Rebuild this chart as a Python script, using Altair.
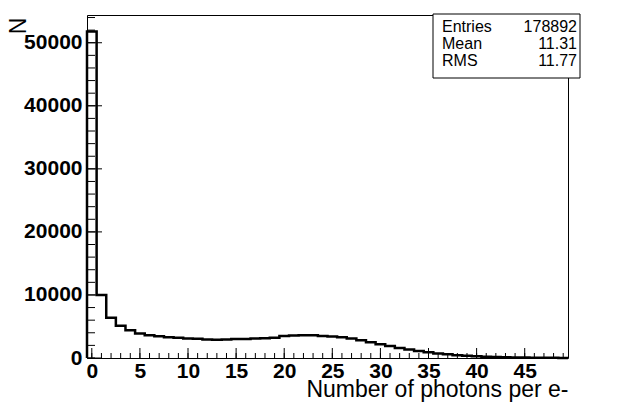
import altair as alt
import pandas as pd

# ---- data ----
bins = list(range(50))  # bin centres (bin width 1, edges at -0.5 ... 49.5)
counts = [51800, 10000, 6400, 5100, 4400, 3900, 3600, 3450, 3300, 3200,
          3100, 3050, 2950, 2900, 2950, 3000, 3000, 3100, 3150, 3200,
          3500, 3550, 3600, 3600, 3500, 3400, 3300, 3100, 2800, 2500,
          2200, 1900, 1600, 1350, 1100, 900, 720, 580, 450, 350,
          270, 200, 150, 110, 80, 60, 40, 30, 20, 15]

x_major = [0, 5, 10, 15, 20, 25, 30, 35, 40, 45]
x_minor = list(range(0, 50))
y_major = [0, 10000, 20000, 30000, 40000, 50000]
y_minor = list(range(0, 54001, 2000))

stat_names = ["Entries", "Mean", "RMS"]
stat_values = ["178892", "11.31", "11.77"]

x_title = "Number of photons per e-"
y_title = "N"

# ---- build ----
W, H = 481, 343
FONT = "Liberation Sans"
xs = alt.Scale(domain=[-0.5, 49.5], nice=False, zero=False)
ys = alt.Scale(domain=[0, 54400], nice=False, zero=False)

px = [-0.5] + [b - 0.5 for b in bins] + [bins[-1] + 0.5]
py = [0] + counts + [counts[-1]]
hist_df = pd.DataFrame({"x": px, "y": py, "i": list(range(len(px)))})

x_axis = alt.Axis(
    values=x_major, title=x_title, ticks=False, domain=False, grid=False,
    labelFont=FONT, labelFontWeight="bold", labelFontSize=21, labelColor="black",
    labelPadding=2, labelFlush=False, format="d",
    titleFont=FONT, titleFontWeight="normal", titleFontSize=23, titleColor="black",
    titleAnchor="end", titleAlign="right", titleX=W, titleY=38,
    titleBaseline="alphabetic")
y_axis = alt.Axis(
    values=y_major, title=y_title, ticks=False, domain=False, grid=False,
    labelFont=FONT, labelFontWeight="bold", labelFontSize=21, labelColor="black",
    labelPadding=5, labelFlush=False, format="d",
    titleFont=FONT, titleFontWeight="normal", titleFontSize=23, titleColor="black",
    titleAngle=270, titleAlign="right", titleBaseline="alphabetic",
    titleX=-62, titleY=2)

hist = alt.Chart(hist_df).mark_line(
    interpolate="step-after", color="black", strokeWidth=2.5
).encode(
    x=alt.X("x:Q", scale=xs, axis=x_axis),
    y=alt.Y("y:Q", scale=ys, axis=y_axis),
    order="i:Q",
)

def rules_x(vals, length):
    return alt.Chart(pd.DataFrame({"x": vals})).mark_rule(color="black", strokeWidth=1).encode(
        x=alt.X("x:Q", scale=xs, axis=x_axis),
        y=alt.value(H), y2=alt.value(H - length))

def rules_y(vals, length):
    return alt.Chart(pd.DataFrame({"y": vals})).mark_rule(color="black", strokeWidth=1).encode(
        y=alt.Y("y:Q", scale=ys, axis=y_axis),
        x=alt.value(0), x2=alt.value(length))

ticks = [rules_x(x_minor, 5), rules_x(x_major, 10), rules_y(y_minor, 8), rules_y(y_major, 15)]

stats_df = pd.DataFrame({"name": stat_names, "val": stat_values})
box = alt.Chart(pd.DataFrame({"a": [0]})).mark_rect(
    fill="white", stroke="black", strokeWidth=1
).encode(x=alt.value(346), x2=alt.value(493), y=alt.value(-1), y2=alt.value(63))

row_y = [12, 29, 46]
stat_layers = []
for i, name in enumerate(stat_names):
    sub = alt.Chart(stats_df).transform_filter(alt.datum.name == name)
    stat_layers.append(sub.mark_text(align="left", baseline="middle", font=FONT, fontSize=16,
                                     color="black").encode(
        x=alt.value(355), y=alt.value(row_y[i]), text="name:N"))
    stat_layers.append(sub.mark_text(align="right", baseline="middle", font=FONT, fontSize=16,
                                     color="black").encode(
        x=alt.value(490), y=alt.value(row_y[i]), text="val:N"))

chart = alt.layer(hist, *ticks, box, *stat_layers).properties(
    width=W, height=H,
    autosize=alt.AutoSizeParams(type="none"),
    padding={"left": 79, "top": 7, "right": 44, "bottom": 44},
    background="white",
).configure_view(stroke="black", strokeWidth=1)

chart.save("out.html", embed_options={"renderer": "svg", "actions": False})
